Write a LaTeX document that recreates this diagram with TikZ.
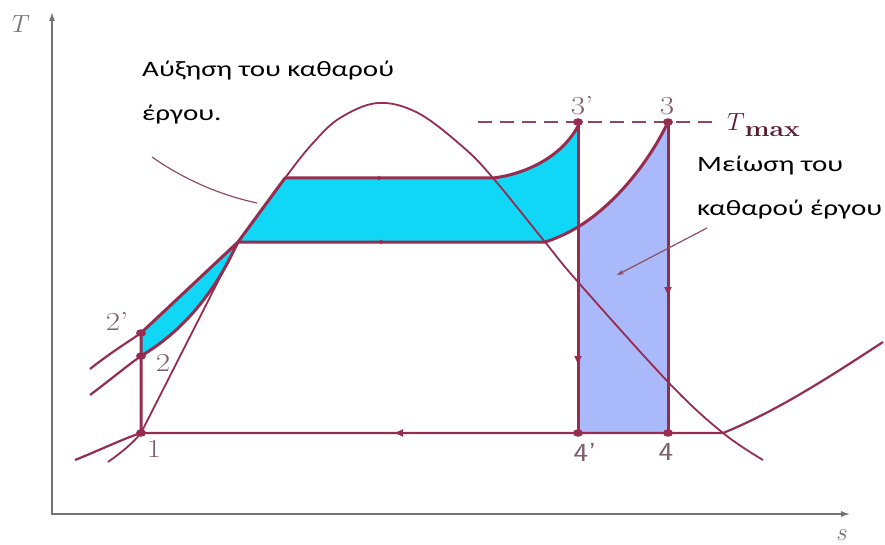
\documentclass[tikz,border=0pt]{standalone}
\usepackage{fontspec}
\usepackage{graphicx}
\newfontfamily\greekfont[FakeStretch=1.32]{Carlito}
\usetikzlibrary{arrows.meta}
\definecolor{wine}{RGB}{150,45,80}
\definecolor{gaincyan}{RGB}{15,215,245}
\definecolor{lossblue}{RGB}{170,185,250}
\definecolor{axisgrey}{RGB}{115,115,115}
\definecolor{labelgrey}{RGB}{125,95,108}
\newcommand\wide[1]{\scalebox{1.2}[1]{#1}}
\begin{document}
\begin{tikzpicture}[x=1pt, y=-1pt,
  domeline/.style={wine, line width=1.8pt},
  cycleline/.style={wine, line width=3pt, line join=round},
  isobar/.style={wine, line width=2.2pt},
  flow/.style={wine, line width=2.5pt, -{Latex[length=10pt,width=8pt]}},
  statelabel/.style={labelgrey, font=\fontsize{26}{26}\selectfont, inner sep=0pt},
  note/.style={font=\greekfont\fontsize{22}{44}\selectfont, align=left, anchor=base west, inner sep=0pt},
  pointer/.style={wine!60!gray, line width=1.2pt}]
\useasboundingbox (0,0) rectangle (885,545);

\coordinate (s1) at (141,433);
\coordinate (s2) at (141,356);
\coordinate (s2p) at (141,333);
\coordinate (s3) at (668,122);
\coordinate (s3p) at (578,122);
\coordinate (s4) at (668,433);
\coordinate (s4p) at (578,433);
\coordinate (liqA) at (238,242);
\coordinate (liqB) at (285,178);
\coordinate (vapB) at (493,178);
\coordinate (vapA) at (545,242);
\coordinate (cutA) at (578,227);

\fill[lossblue] (cutA) .. controls (617,203) and (650,160) .. (s3) -- (s4) -- (s4p) -- cycle;
\fill[gaincyan] (liqA) -- (vapA) .. controls (556,238.6) and (567,233.5) .. (cutA) -- (578,126) .. controls (560,160) and (520,175) .. (vapB) -- (liqB) -- cycle;
\fill[gaincyan] (s2p) -- (liqA) -- (234,250) .. controls (215,290) and (185,330) .. (s2) -- cycle;

\draw[axisgrey, line width=1.5pt, {Latex[length=9pt,width=6pt]}-{Latex[length=9pt,width=6pt]}] (52,12) |- (850,514);
\node[axisgrey, font=\fontsize{25}{25}\selectfont] (taxis) at (21,24) {$T$};
\node[axisgrey, font=\fontsize{25}{25}\selectfont] (saxis) at (842,535) {$s$};

\draw[domeline] (108,462) .. controls (122,452) and (133,443) .. (s1) -- (liqA)
  plot[smooth, tension=0.6] coordinates {(238,242) (285,178) (313,143) (340,118) (378,103) (418,113) (463,147) (493,178) (545,242) (578,282) (670,384) (723,433) (763,460)};

\draw[isobar] (75,460) .. controls (100,450) and (125,438) .. (s1) -- (723,433) .. controls (780,410) and (840,370) .. (883,342);
\draw[isobar] (90,395) .. controls (110,380) and (128,365) .. (s2);
\draw[isobar] (90,369) .. controls (110,353) and (128,342) .. (s2p);

\draw[cycleline] (s1) -- (s2p) -- (liqA) -- (liqB) -- (vapB) .. controls (520,175) and (560,160) .. (578,126);
\draw[cycleline] (s2) .. controls (185,330) and (215,290) .. (234,250) -- (liqA) -- (vapA) .. controls (556,238.6) and (567,233.5) .. (cutA) .. controls (617,203) and (650,160) .. (s3);
\draw[cycleline] (s3p) -- (s4p);
\draw[cycleline] (s3) -- (s4);

\draw[wine!70!gray, line width=2pt, dash pattern=on 14pt off 8pt] (478,122) -- (712,122);

\draw[flow] (578,352) -- (578,366);
\draw[flow] (668,283) -- (668,297);
\draw[flow] (405,433) -- (393,433);
\draw[flow, -{Latex[length=6pt,width=5pt]}] (374,178) -- (384,178);
\draw[flow, -{Latex[length=6pt,width=5pt]}] (376,242) -- (386,242);

\foreach \p in {s1,s2,s2p,s3,s3p,s4,s4p}
  \fill[wine] (\p) ellipse (5pt and 3.8pt);

\node[statelabel] (l1) at (154,449) {\wide{1}};
\node[statelabel] (l2) at (163,363) {\wide{2}};
\node[statelabel] (l2p) at (117,321) {\wide{2'}};
\node[statelabel] (l3p) at (582,106) {\wide{3'}};
\node[statelabel] (l3) at (667,106) {\wide{3}};
\node[statelabel, font=\sffamily\fontsize{26}{26}\selectfont] (l4p) at (585,452) {\wide{4'}};
\node[statelabel, font=\sffamily\fontsize{26}{26}\selectfont] (l4) at (666,452) {\wide{4}};
\node[wine!60!black, font=\fontsize{25}{25}\selectfont, anchor=base west, inner sep=0pt] (tmax) at (727,131)
  {$T$\raisebox{-6pt}{\scalebox{1.2}[1]{\fontsize{22}{22}\selectfont\bfseries max}}};

\node[note] (gain) at (142,121) {Αύξηση του καθαρού\\έργου.};
\node[note] (loss) at (697,216) {Μείωση του\\καθαρού έργου};

\coordinate (gainfrom) at (152,157);
\coordinate (gainto) at (257,203);
\coordinate (lossfrom) at (707,228);
\coordinate (lossto) at (617,275);
\draw[pointer] (gainfrom) .. controls (185,180) and (220,195) .. (gainto);
\draw[pointer, -{Stealth[length=7pt,width=5pt]}] (lossfrom) -- (lossto);
\end{tikzpicture}
\end{document}
